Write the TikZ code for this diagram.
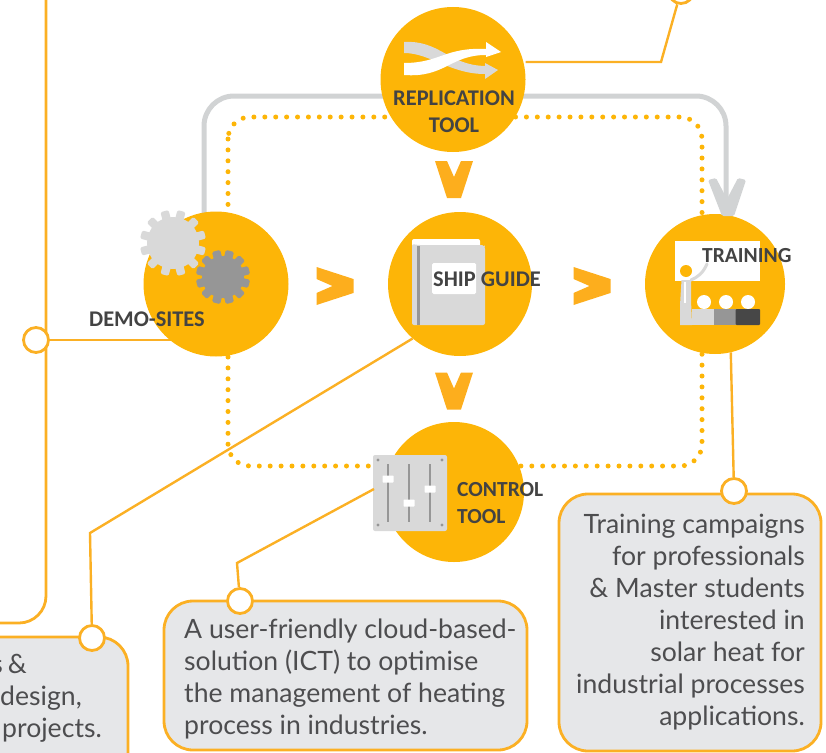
\documentclass[tikz,border=0pt]{standalone}
\usepackage{fontspec}
\setmainfont{Lato}
\newfontfamily\labelfont[BoldFont={Carlito Bold}]{Carlito}
\usetikzlibrary{backgrounds}
\definecolor{disc}{HTML}{FDB507}
\definecolor{wire}{HTML}{FBB024}
\definecolor{chev}{HTML}{FDAE1D}
\definecolor{panel}{HTML}{E6E7E9}
\definecolor{ink}{HTML}{4D4D4F}
\definecolor{lab}{HTML}{434343}
\definecolor{rail}{HTML}{D1D3D4}
\definecolor{lgray}{HTML}{D9D9D9}
\definecolor{mgray}{HTML}{969696}
\definecolor{dgray}{HTML}{474747}
\tikzset{
  x=1pt,y=-1pt,
  discnode/.style={circle,fill=disc,inner sep=0pt,minimum size=#1},
  panelbox/.style={draw=wire,line width=2.8pt,fill=panel,rounded corners=29pt,inner sep=0pt,outer sep=0pt,anchor=north west},
  dotnode/.style={circle,draw=wire,line width=2.8pt,fill=white,inner sep=0pt,minimum size=25pt},
  wireline/.style={draw=wire,line width=2.4pt},
  lbl/.style={font=\labelfont\bfseries\fontsize{22.4}{27}\selectfont,text=lab,inner sep=0pt,align=center},
  lblsmall/.style={lbl,font=\labelfont\bfseries\fontsize{21.5}{27}\selectfont},
  body/.style={font=\fontsize{26.6}{32}\selectfont,text=ink,inner sep=0pt},
  chevron/.pic={\fill[chev] (-19,-18.5)--(-7,-18.5)--(0,-2.5)--(7,-18.5)--(19,-18.5)--(7,18.5)--(-7,18.5)--cycle;},
}
\newcommand{\gearshape}[5]{% x y inner tooth colour
  \fill[#5] (#1,#2) circle (#3);
  \foreach \a in {15,45,...,345}{
    \fill[#5,rounded corners=1.5pt,shift={(#1,#2)},rotate=\a] (-4.2,0) rectangle (4.2,#4);
  }
}
\begin{document}
\begin{tikzpicture}
\useasboundingbox (0,0) rectangle (826,752);
\clip (0,0) rectangle (826,752);

% panels
\node[draw=wire,line width=2.8pt,rounded corners=27pt,inner sep=0pt,outer sep=0pt,minimum width=346pt,minimum height=723pt,anchor=north east] (leftframe) at (46,-100) {};
\node[panelbox,minimum width=328pt,minimum height=160pt] (boxa) at (-200,637) {};
\node[panelbox,minimum width=363pt,minimum height=149pt] (boxb) at (164,601) {};
\node[panelbox,minimum width=262pt,minimum height=257pt] (boxc) at (559,494) {};

% discs
\node[discnode=145pt] (repl) at (453,79.5) {};
\node[discnode=145pt] (demo) at (216,284) {};
\node[discnode=144pt] (ship) at (460,284) {};
\node[discnode=140pt] (train) at (715,284) {};
\node[discnode=140pt] (ctrl) at (454,492) {};

% end dots
\node[dotnode] (dotleft) at (36,340) {};
\node[dotnode] (dota) at (92,638) {};
\node[dotnode] (dotb) at (240,601) {};
\node[dotnode] (dotc) at (734,491) {};
\node[dotnode] (dottop) at (681,-9) {};

% rails behind discs
\coordinate (railA) at (204,96);
\coordinate (railB) at (726,96);
\coordinate (railEnd) at (726,200);
\begin{scope}[on background layer]
  \draw[rail,line width=5pt,rounded corners=30pt] (204,230) -- (railA) -- (railB) -- (railEnd);
  \draw[disc,line width=5pt,line cap=round,dash pattern=on 0pt off 10.9pt,rounded corners=22pt] (228,117) rectangle (702,466);
  \draw[wireline] (dotleft) -- (dotleft -| demo);
\end{scope}
\fill[rail,rounded corners=1.5pt] (708,180)--(716,178)--(727,199)--(738,178)--(746,180)--(734,216)--(722,216)--cycle;

% chevrons
\pic at (454,179.5) {chevron};
\pic at (454,391) {chevron};
\pic[rotate=90] at (335,286) {chevron};
\pic[rotate=90] at (592,286) {chevron};

% connectors
\coordinate (ea) at (90,533);
\coordinate (eb) at (237,563);
\coordinate (et) at (661,62);
\coordinate (mixerport) at (374,489);
\draw[wireline] (ship.229) -- (ea) -- (dota);
\draw[wireline] (dotc) -- (train.-77);
\draw[wireline] (repl.east |- et) -- (et) -- (dottop);

% gears
\gearshape{173}{243}{26}{33}{lgray}
\gearshape{223}{277}{21}{27}{mgray}

% book
\fill[white,rounded corners=2pt] (412,239) rectangle (480,250);
\fill[lgray,rounded corners=2pt] (412,244) -- (418,245) -- (484,245) -- (485,247) -- (485,325) -- (412,325) -- cycle;
\fill[mgray] (417,246) rectangle (419.5,325);
\fill[white,rounded corners=1.5pt] (432,263) rectangle (476,294);

% training icon
\fill[white] (675,241) rectangle (760,281);
\fill[disc] (686,271) circle (6);
\fill[lgray] (681.5,280) -- (691,280) -- (691,300) -- (692,325) -- (680,325) -- (680,305) -- cycle;
\draw[lgray,line width=3pt,line cap=round] (691,280) .. controls (698,277) and (703,273) .. (707,264);
\fill[white] (684,282) rectangle (686,303);
\foreach \sx in {704,726,748}{\fill[white] (\sx,302) circle (7);}
\fill[lgray] (692,309) rectangle (714,325);
\fill[mgray] (714,309) rectangle (735.5,325);
\fill[dgray,rounded corners=1pt] (735.5,309) rectangle (760,325);

% sliders
\node[draw=none,fill=lgray,rounded corners=2pt,minimum width=74pt,minimum height=76pt,inner sep=0pt] (mixer) at (410,493) {};
\draw[wireline] (mixerport) -- (eb) -- (dotb);
\foreach \sx/\sy in {378/460,442/460,378/525,442/525}{\fill[mgray] (\sx,\sy) circle (1.7);}
\foreach \sx/\sy in {388/479,409/503,430/489}{
  \draw[mgray,line width=1.8pt] (\sx,464) -- (\sx,522);
  \fill[white,rounded corners=0.7pt] (\sx-5.5,\sy-3.5) rectangle (\sx+5.5,\sy+3.5);
}

% shuffle icon
\fill[lgray] (404,42) .. controls (440,40) and (448,65) .. (485,66) -- (485,63) -- (498,70) -- (485,79) -- (485,74) .. controls (450,74) and (430,53) .. (404,53) -- cycle;
\fill[white] (404,75) .. controls (445,78) and (450,55) .. (486,55) -- (486,57) -- (501,52) -- (486,42) -- (486,49) .. controls (445,47) and (440,63) .. (404,63) -- cycle;

% labels
\node[lbl] (lrepl) at (454,111.5) {REPLICATION\\TOOL};
\node[lbl,anchor=west] (ldemo) at (89,319) {DEMO-SITES};
\node[lbl,anchor=west] (lship) at (433,279) {SHIP GUIDE};
\node[lblsmall,anchor=west] (ltrain) at (702,256) {TRAINING};
\node[lblsmall,anchor=west,align=left] (lctrl) at (457,503) {CONTROL\\TOOL};

% panel texts
\node[body,anchor=base east] (ta1) at (27,673) {s\hspace{5pt}\&};
\node[body,anchor=base east] (ta2) at (82,705) {design,};
\node[body,anchor=base east] (ta3) at (102,737) {projects.};
\node[body,anchor=north west,align=left] (tb) at (184,619) {A user-friendly cloud-based-\\solution (ICT) to optimise\\the management of heating\\process in industries.};
\node[body,anchor=north east,align=right] (tc) at (805,514) {Training campaigns\\for professionals\\\& Master students\\interested in\\solar heat for\\industrial processes\\applications.};
\end{tikzpicture}
\end{document}
